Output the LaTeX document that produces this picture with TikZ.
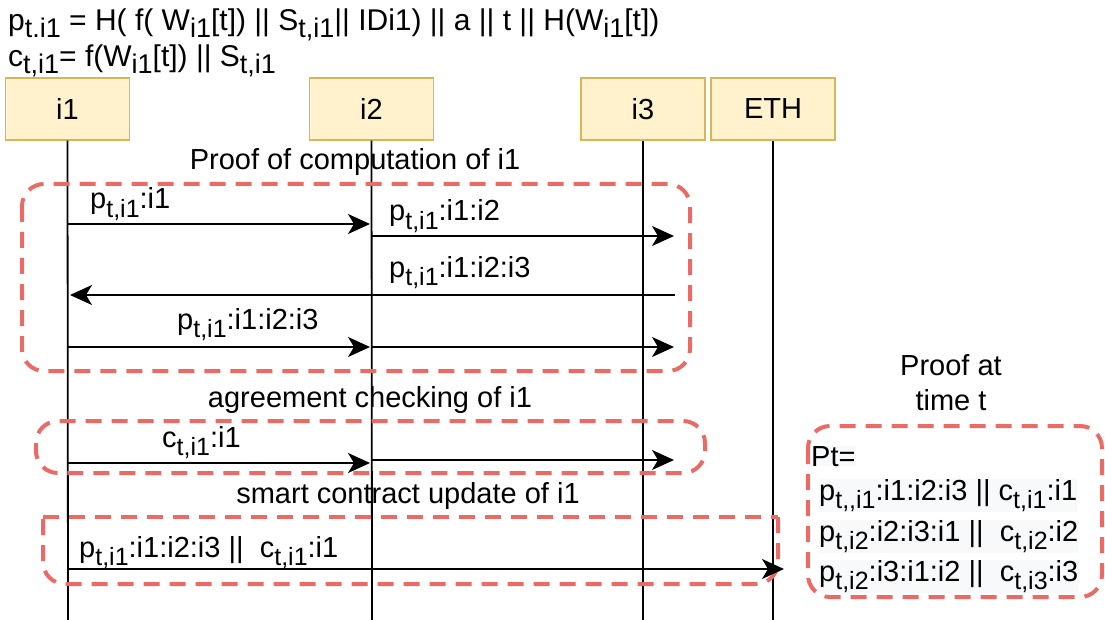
\documentclass[tikz,border=0pt]{standalone}
\usepackage{fontspec}
\setmainfont{Liberation Sans}
\usetikzlibrary{arrows.meta}
\definecolor{boxfill}{HTML}{FFF2CC}
\definecolor{boxline}{HTML}{D6B656}
\definecolor{grp}{HTML}{EA6B66}
\definecolor{hl}{HTML}{F8F9FA}
% lowered, smaller subscript text
\newcommand{\lo}[1]{\raisebox{-0.3em}{\fontsize{25}{25}\selectfont #1}}
\newcommand{\hlo}[1]{\raisebox{-0.22em}{\fontsize{27}{27}\selectfont #1}}
\tikzset{
  txt/.style={inner sep=0pt, font=\fontsize{29}{31}\selectfont},
  lbl/.style={txt, anchor=base west},
  ttl/.style={txt, anchor=base},
  head/.style={lbl, font=\fontsize{30}{32}\selectfont},
  actor/.style={draw=boxline, fill=boxfill, line width=1.5pt, minimum width=124pt,
    minimum height=62pt, inner sep=0pt, font=\fontsize{29}{31}\selectfont},
  life/.style={line width=1.8pt},
  msg/.style={line width=1.8pt, -{Stealth[length=22pt,width=20pt,inset=6pt]}},
  group/.style={draw=grp, line width=4pt, dash pattern=on 16pt off 10pt, rounded corners=22pt},
}
\begin{document}
\begin{tikzpicture}[x=1pt,y=-1pt]
\useasboundingbox (0,0) rectangle (1105,620);

% header formulas
\node[head] (f1) at (8,31) {p\hlo{t.i1} = H( f( W\hlo{i1}[t]) || S\hlo{t,i1}|| IDi1) || a || t || H(W\hlo{i1}[t])};
\node[head] (f2) at (8,67) {c\hlo{t,i1}= f(W\hlo{i1}[t]) || S\hlo{t,i1}};

% participants
\node[actor] (i1) at (67.5,109) {i1};
\node[actor] (i2) at (371.5,109) {i2};
\node[actor] (i3) at (643,109) {i3};
\node[actor] (eth) at (773,109) {ETH};

% lifelines
\coordinate (e1) at (68,620);
\coordinate (e2) at (372,620);
\coordinate (e3) at (643,620);
\coordinate (e4) at (773,620);
\draw[life] (i1.south) -- (e1);
\draw[life] (i2.south) -- (e2);
\draw[life] (i3.south) -- (e3);
\draw[life] (eth.south) -- (e4);

% group frames
\node[ttl] (g1t) at (355,170) {Proof of computation of i1};
\draw[group] (22,184) rectangle (690,371);
\node[ttl] (g2t) at (370,407) {agreement checking of i1};
\draw[group] (36,421) rectangle (705,473);
\node[ttl] (g3t) at (408,503) {smart contract update of i1};
\draw[group] (43,517) -- (778,517);
\draw[group] (778,517) -- (778,584) -- (43,584) -- (43,517);

% proof of computation messages
\coordinate (a1) at (68,224);  \coordinate (b1) at (370,224);
\coordinate (a2) at (372,236); \coordinate (b2) at (674,236);
\coordinate (a3) at (675,295); \coordinate (b3) at (70,295);
\coordinate (a4) at (68,347);  \coordinate (b4) at (370,347);
\coordinate (a5) at (372,347); \coordinate (b5) at (674,347);
\draw[msg] (a1) -- (b1);
\draw[msg] (a2) -- (b2);
\draw[msg] (a3) -- (b3);
\draw[msg] (a4) -- (b4);
\draw[msg] (a5) -- (b5);
\node[lbl] (m1) at (90,209) {p\lo{t,i1}:i1};
\node[lbl] (m2) at (389,221) {p\lo{t,i1}:i1:i2};
\node[lbl] (m3) at (389,277) {p\lo{t,i1}:i1:i2:i3};
\node[lbl] (m4) at (177,329) {p\lo{t,i1}:i1:i2:i3};

% agreement messages
\coordinate (c1) at (68,463);  \coordinate (d1) at (370,463);
\coordinate (c2) at (372,460); \coordinate (d2) at (674,460);
\draw[msg] (c1) -- (d1);
\draw[msg] (c2) -- (d2);
\node[lbl] (m5) at (162,447) {c\lo{t,i1}:i1};

% contract update message
\coordinate (u1) at (68,569); \coordinate (u2) at (784,569);
\draw[msg] (u1) -- (u2);
\node[lbl] (m6) at (79,557) {p\lo{t,i1}:i1:i2:i3 ||\ \ c\lo{t,i1}:i1};

% proof at time t
\node[ttl] (pt1) at (951,375) {Proof at};
\node[ttl] (pt2) at (951,410) {time t};
\draw[group] (808,426) rectangle (1102,597);
\node[lbl, fill=hl] (r0) at (811,466) {Pt=};
\node[lbl, fill=hl] (r1) at (819,500) {p\lo{t,{},i1}:i1:i2:i3 || c\lo{t,i1}:i1};
\node[lbl, fill=hl] (r2) at (819,541) {p\lo{t,i2}:i2:i3:i1 ||\ \ c\lo{t,i2}:i2};
\node[lbl, fill=hl] (r3) at (819,581) {p\lo{t,i2}:i3:i1:i2 ||\ \ c\lo{t,i3}:i3};
\end{tikzpicture}
\end{document}
